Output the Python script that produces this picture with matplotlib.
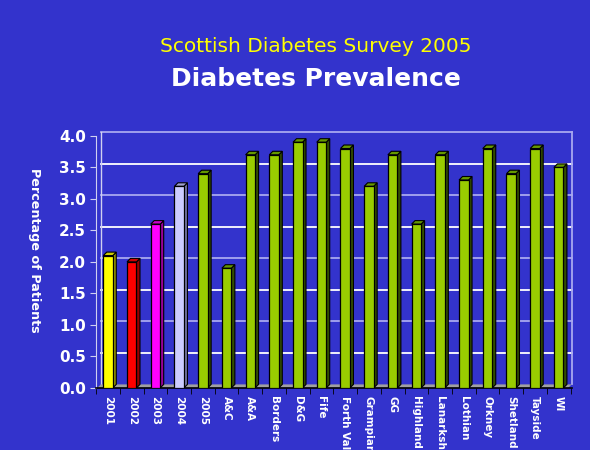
import numpy as np
import matplotlib.pyplot as plt
from matplotlib.patches import Polygon

BG = "#3333CC"

labels = ["2001", "2002", "2003", "2004", "2005", "A&C", "A&A", "Borders", "D&G",
          "Fife", "Forth Valley", "Grampian", "GG", "Highland", "Lanarkshire",
          "Lothian", "Orkney", "Shetland", "Tayside", "WI"]
values = [2.1, 2.0, 2.6, 3.2, 3.4, 1.9, 3.7, 3.7, 3.9, 3.9, 3.8, 3.2, 3.7, 2.6,
          3.7, 3.3, 3.8, 3.4, 3.8, 3.5]

# front / top / side colours for each bar
year_cols = [("#FFFF00", "#CCCC00", "#999900"),
             ("#FF0000", "#CC0000", "#990000"),
             ("#FF00FF", "#CC00CC", "#990099"),
             ("#CCCCFF", "#A0A0D0", "#7A7AAA")]
board_col = ("#99CC00", "#669900", "#334D00")
colours = year_cols + [board_col] * (len(values) - len(year_cols))

fig = plt.figure(figsize=(5.9, 4.5), dpi=100, facecolor=BG)
ax = fig.add_axes([0.163, 0.138, 0.806, 0.560])
ax.set_facecolor(BG)

xmin, xmax = -0.45, len(values) - 0.45
ymin, ymax = 0.0, 4.0
ax.set_xlim(xmin, xmax)
ax.set_ylim(ymin, ymax)

# depth of the pseudo 3D effect, in data units
W_px = 0.806 * 590
H_px = 0.560 * 450
depth = 3.5
dx = depth * (xmax - xmin) / W_px
dy = depth * (ymax - ymin) / H_px

# floor
ax.add_patch(Polygon([(xmin, 0), (xmax - dx, 0), (xmax, dy), (xmin + dx, dy)],
                     closed=True, facecolor="#A0A0A0", edgecolor="none",
                     zorder=1, clip_on=False))

# back wall gridlines
for i, g in enumerate(np.arange(0.5, 4.01, 0.5)):
    c = "white" if i % 2 == 0 else "#A8A8F0"
    ax.plot([xmin + dx, xmax], [g + dy, g + dy], color=c, lw=1.3, zorder=0.5,
            clip_on=False)
ax.plot([xmax, xmax], [dy, ymax + dy], color="#A8A8F0", lw=1.3, zorder=0.5,
        clip_on=False)
ax.plot([xmin + dx, xmin + dx], [dy, ymax + dy], color="#D0D0F0", lw=1.0,
        zorder=0.5, clip_on=False)

# bars
w = 0.4
for i, (v, (cf, ct, cs)) in enumerate(zip(values, colours)):
    x0 = i - w / 2
    x1 = i + w / 2
    ax.add_patch(Polygon([(x1, 0), (x1 + dx, dy), (x1 + dx, v + dy), (x1, v)],
                         facecolor=cs, edgecolor="black", lw=0.8, zorder=3))
    ax.add_patch(Polygon([(x0, v), (x1, v), (x1 + dx, v + dy), (x0 + dx, v + dy)],
                         facecolor=ct, edgecolor="black", lw=0.8, zorder=3))
    ax.add_patch(Polygon([(x0, 0), (x1, 0), (x1, v), (x0, v)],
                         facecolor=cf, edgecolor="black", lw=0.9, zorder=4))

for s in ["top", "right"]:
    ax.spines[s].set_visible(False)
ax.spines["left"].set_color("#D0D0F0")
ax.spines["bottom"].set_color("black")
ax.spines["bottom"].set_linewidth(1.2)

ax.set_yticks(np.arange(0, 4.01, 0.5))
ax.set_yticklabels([f"{t:.1f}" for t in np.arange(0, 4.01, 0.5)],
                   color="white", fontsize=11, fontweight="bold")
ax.tick_params(axis="y", colors="#D0D0F0", length=4, labelcolor="white")

ax.set_xticks(np.arange(len(values)))
ax.set_xticklabels(labels, rotation=270, color="white", fontsize=7.5,
                   fontweight="bold", va="top", ha="center")
ax.set_xticks(np.arange(len(values) + 1) - 0.5, minor=True)
ax.tick_params(axis="x", which="major", length=0, pad=6)
ax.tick_params(axis="x", which="minor", length=4, color="black")

fig.text(0.059, 0.444, "Percentage of Patients", rotation=270, color="white",
         fontsize=9.2, fontweight="bold", ha="center", va="center")
fig.text(0.535, 0.897, "Scottish Diabetes Survey 2005", color="#FFFF00",
         fontsize=14.5, ha="center", va="center")
fig.text(0.535, 0.825, "Diabetes Prevalence", color="white", fontsize=18,
         fontweight="bold", ha="center", va="center")

fig.savefig("out.png", dpi=100, facecolor=BG)
